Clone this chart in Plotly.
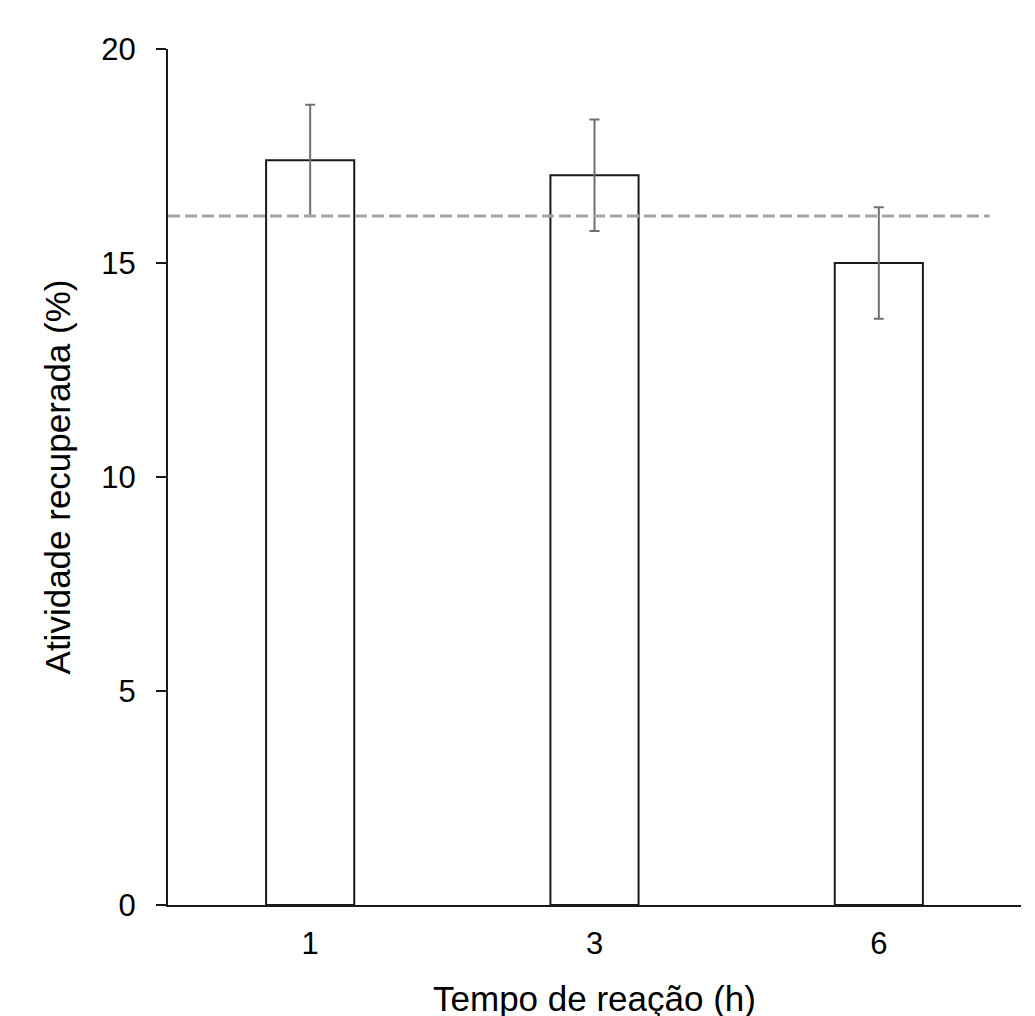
import plotly.graph_objects as go

categories = ["1", "3", "6"]
values = [17.4, 17.05, 15.0]
errors = [1.3, 1.3, 1.3]
reference_value = 16.1
y_ticks = [0, 5, 10, 15, 20]

FONT = "Liberation Sans, Arial, sans-serif"

fig = go.Figure()
fig.add_trace(go.Bar(
    x=categories, y=values,
    width=0.31,
    marker=dict(color="white", line=dict(color="#1a1a1a", width=2)),
    error_y=dict(type="data", array=errors, visible=True,
                 color="#707070", thickness=2, width=5),
    showlegend=False,
))

fig.add_shape(type="line", xref="x", yref="y",
              x0=-0.5, x1=2.39, y0=reference_value, y1=reference_value,
              line=dict(color="#a6a6a6", width=3, dash="12px,5px"), layer="above")

fig.update_layout(
    width=1035, height=1016,
    margin=dict(l=160, r=22, t=41, b=116),
    plot_bgcolor="white", paper_bgcolor="white",
    font=dict(family=FONT, color="black", size=31),
    xaxis=dict(
        type="category", range=[-0.5, 2.5],
        showline=True, linecolor="#1a1a1a", linewidth=2,
        ticks="", showgrid=False, zeroline=False,
        tickfont=dict(size=31), ticklabelstandoff=10,
        title=dict(text="Tempo de reação (h)", font=dict(size=35), standoff=26),
    ),
    yaxis=dict(
        range=[0, 20], tickvals=y_ticks,
        showline=True, linecolor="#1a1a1a", linewidth=2,
        ticks="outside", ticklen=10, tickcolor="#1a1a1a", tickwidth=2,
        showgrid=False, zeroline=False,
        tickfont=dict(size=31), ticklabelstandoff=14,
        title=dict(text="Atividade recuperada (%)", font=dict(size=35), standoff=20),
    ),
)

fig.write_html("out.html")
